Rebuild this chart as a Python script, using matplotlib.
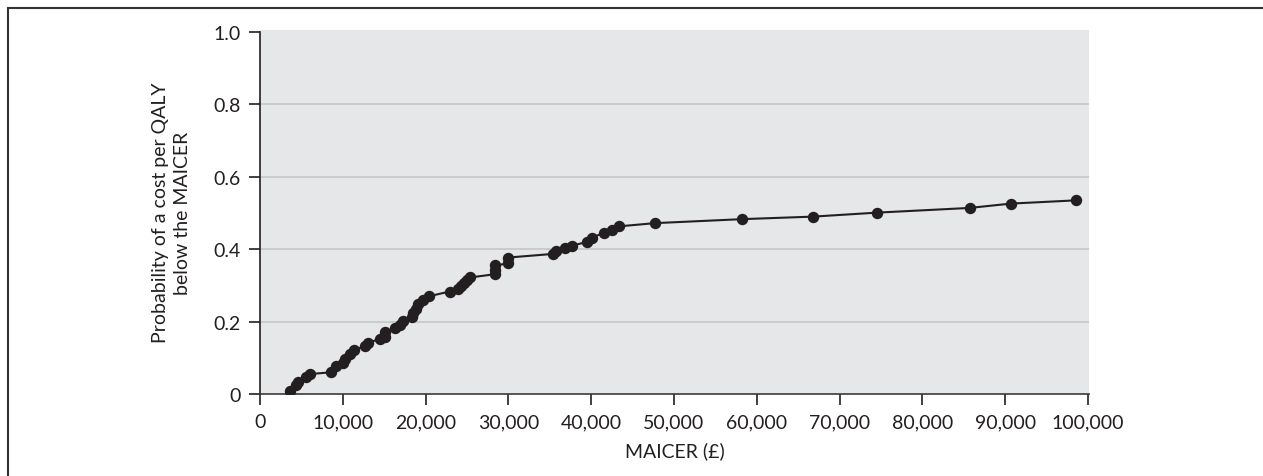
import matplotlib
matplotlib.use("Agg")
import matplotlib.pyplot as plt
from matplotlib.lines import Line2D
from matplotlib.ticker import FuncFormatter

plt.rcParams['font.family'] = ['Lato', 'DejaVu Sans']

maicer = [3600, 4400, 4600, 5600, 6000, 8600, 9200, 10000, 10300, 10900,
          11400, 12700, 13100, 14500, 15100, 15100, 16300, 16900, 17300, 18300,
          18500, 18800, 19100, 19700, 20400, 22900, 23900, 24300, 24600, 25000,
          25400, 28400, 28400, 28400, 30000, 30000, 35400, 35800, 36800, 37700,
          39500, 40100, 41500, 42500, 43300, 47700, 58200, 66800, 74500, 85700,
          90700, 98600]
prob = [0.009, 0.024, 0.034, 0.046, 0.055, 0.060, 0.076, 0.087, 0.098, 0.110,
        0.122, 0.132, 0.142, 0.152, 0.158, 0.172, 0.182, 0.190, 0.203, 0.212,
        0.224, 0.236, 0.248, 0.260, 0.270, 0.283, 0.290, 0.298, 0.306, 0.314,
        0.322, 0.331, 0.343, 0.355, 0.361, 0.377, 0.387, 0.395, 0.403, 0.410,
        0.420, 0.432, 0.445, 0.454, 0.463, 0.472, 0.483, 0.490, 0.501, 0.514,
        0.526, 0.535]

x_ticks = [0, 10000, 20000, 30000, 40000, 50000, 60000, 70000, 80000, 90000, 100000]
y_ticks = [0, 0.2, 0.4, 0.6, 0.8, 1.0]
y_labels = ['0', '0.2', '0.4', '0.6', '0.8', '1.0']

W, H = 1263, 477
fig = plt.figure(figsize=(W / 100, H / 100), dpi=100)
ax = fig.add_axes([260 / W, 1 - 395 / H, 829 / W, (395 - 31) / H])
ax.set_facecolor('#e6e7e8')

ax.plot(maicer, prob, color='#231f20', lw=1.5, marker='o', ms=7.2,
        markerfacecolor='#231f20', markeredgecolor='#231f20', zorder=3)

ax.set_xlim(0, 100000 * 829 / 828)
ax.set_ylim(0, 1.0 * 364 / 362)
ax.set_xticks(x_ticks)
ax.xaxis.set_major_formatter(FuncFormatter(lambda v, p: '0' if v == 0 else f'{int(v):,}'))
ax.set_yticks(y_ticks)
ax.set_yticklabels(y_labels)

for yv in y_ticks[1:-1]:
    ax.axhline(yv, color='#c5c6c8', lw=1.2, zorder=1)

for s in ['top', 'right']:
    ax.spines[s].set_visible(False)
ax.spines['left'].set_color('#231f20')
ax.spines['bottom'].set_color('#3a3a3a')
ax.spines['left'].set_linewidth(1.2)
ax.spines['bottom'].set_linewidth(1.2)
ax.spines['left'].set_bounds(0, 1.0)
ax.tick_params(axis='both', direction='out', length=8, width=1.2, color='#231f20',
               labelsize=14, labelcolor='#231f20', pad=6)

ax.set_xlabel('MAICER (£)', fontsize=14, color='#231f20', labelpad=8)
ax.set_ylabel('Probability of a cost per QALY\nbelow the MAICER', fontsize=14,
              color='#231f20', labelpad=16, linespacing=1.35)

fig.add_artist(Line2D([8 / W, 1], [1 - 9 / H, 1 - 9 / H], color='#333333', lw=1.5,
                      transform=fig.transFigure))
fig.add_artist(Line2D([8 / W, 8 / W], [0, 1 - 9 / H], color='#333333', lw=1.5,
                      transform=fig.transFigure))

fig.savefig('out.png', dpi=100)
